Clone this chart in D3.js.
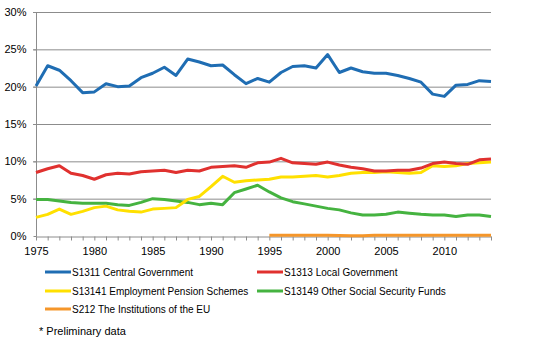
<!DOCTYPE html>
<html><head><meta charset="utf-8">
<script src="https://cdn.jsdelivr.net/npm/d3@7"></script>
<style>body{margin:0;background:#fff}svg{display:block;font-family:"Liberation Sans",Arial,sans-serif}</style>
</head><body><svg id="c" width="556" height="340"></svg>
<script>
const years = d3.range(1975, 2015);
const central = [20.1,22.8,22.2,20.8,19.2,19.3,20.4,20.0,20.1,21.2,21.8,22.6,21.5,23.7,23.3,22.8,22.9,21.6,20.4,21.1,20.6,21.9,22.7,22.8,22.5,24.3,21.9,22.5,22.0,21.8,21.8,21.5,21.1,20.6,19.0,18.7,20.2,20.3,20.8,20.7];
const local = [8.5,9.0,9.4,8.4,8.1,7.6,8.2,8.4,8.3,8.6,8.7,8.8,8.5,8.8,8.7,9.2,9.3,9.4,9.2,9.8,9.9,10.4,9.8,9.7,9.6,9.9,9.5,9.2,9.0,8.7,8.7,8.8,8.8,9.1,9.7,9.9,9.7,9.6,10.2,10.3];
const pension = [2.5,2.9,3.6,2.9,3.3,3.8,4.0,3.5,3.3,3.2,3.6,3.7,3.8,4.9,5.3,6.6,8.0,7.2,7.4,7.5,7.6,7.9,7.9,8.0,8.1,7.9,8.1,8.4,8.5,8.5,8.6,8.5,8.4,8.5,9.4,9.3,9.4,9.7,9.8,9.9];
const otherSS = [4.9,4.9,4.7,4.5,4.4,4.4,4.4,4.2,4.1,4.5,5.0,4.9,4.7,4.5,4.2,4.4,4.2,5.8,6.3,6.8,5.9,5.1,4.6,4.3,4.0,3.7,3.5,3.1,2.8,2.8,2.9,3.2,3.05,2.9,2.8,2.8,2.6,2.8,2.8,2.6];
const euYears = d3.range(1995, 2015);
const eu = [0.1,0.1,0.1,0.1,0.1,0.1,0.08,0.05,0.05,0.1,0.1,0.1,0.1,0.1,0.1,0.1,0.1,0.1,0.1,0.1];
const yTicks = [0,5,10,15,20,25,30];
const xLabels = [1975,1980,1985,1990,1995,2000,2005,2010];
const seriesNames = ["S1311 Central Government","S1313 Local Government","S13141 Employment Pension Schemes","S13149 Other Social Security Funds","S212 The Institutions of the EU"];
const colors = ["#1f6db3","#e0312f","#ffe000","#45b340","#f5962a"];
const note = "* Preliminary data";

const svg = d3.select("#c");
const x = d3.scaleLinear().domain([1975, 2014]).range([36, 491]);
const y = d3.scaleLinear().domain([0, 30]).range([236, 12]);

// grid
svg.append("g").selectAll("line").data(yTicks.filter(d=>d>0)).join("line")
  .attr("x1", 33).attr("x2", 491).attr("y1", d=>y(d)+0.5).attr("y2", d=>y(d)+0.5)
  .attr("stroke", "#8c8c8c").attr("stroke-width", 1);
// y axis
const ya = svg.append("g").attr("transform","translate(36.5,0)")
  .call(d3.axisLeft(y).tickValues(yTicks).tickFormat(d=>d+"%").tickSize(3).tickPadding(7));
ya.select(".domain").attr("stroke","#8c8c8c").attr("d","M0,12V236.5");
ya.selectAll(".tick line").attr("stroke","#8c8c8c");
ya.selectAll("text").attr("font-size","11px").attr("fill","#000").attr("font-family","Liberation Sans, Arial, sans-serif");
// x axis
const xa = svg.append("g").attr("transform","translate(0,236.5)")
  .call(d3.axisBottom(x).tickValues(years).tickFormat(d=>xLabels.includes(d)?d:"").tickSize(4).tickPadding(7).tickSizeOuter(0));
xa.select(".domain").attr("stroke","#8c8c8c");
xa.selectAll(".tick line").attr("stroke","#8c8c8c");
xa.selectAll("text").attr("font-size","11px").attr("fill","#000").attr("font-family","Liberation Sans, Arial, sans-serif");

const line = d3.line().x(d=>x(d[0])).y(d=>y(d[1]));
const data = [
  years.map((yr,i)=>[yr,central[i]]),
  years.map((yr,i)=>[yr,local[i]]),
  years.map((yr,i)=>[yr,pension[i]]),
  years.map((yr,i)=>[yr,otherSS[i]]),
  euYears.map((yr,i)=>[yr,eu[i]])
];
const drawOrder = [4,3,2,1,0];
svg.append("g").selectAll("path").data(drawOrder).join("path")
  .attr("d", i=>line(data[i])).attr("fill","none").attr("stroke", i=>colors[i])
  .attr("stroke-width",3).attr("stroke-linejoin","round");

// legend
const legPos = [[45,272],[257,272],[45,291],[257,291],[45,309]];
const lg = svg.append("g");
seriesNames.forEach((n,i)=>{
  const [lx,ly] = legPos[i];
  lg.append("line").attr("x1",lx).attr("x2",lx+26).attr("y1",ly).attr("y2",ly)
    .attr("stroke",colors[i]).attr("stroke-width",3);
  lg.append("text").attr("x",lx+27).attr("y",ly+4).attr("font-size","10px").text(n);
});
svg.append("text").attr("x",39).attr("y",335).attr("font-size","11px").text(note);
</script></body></html>
